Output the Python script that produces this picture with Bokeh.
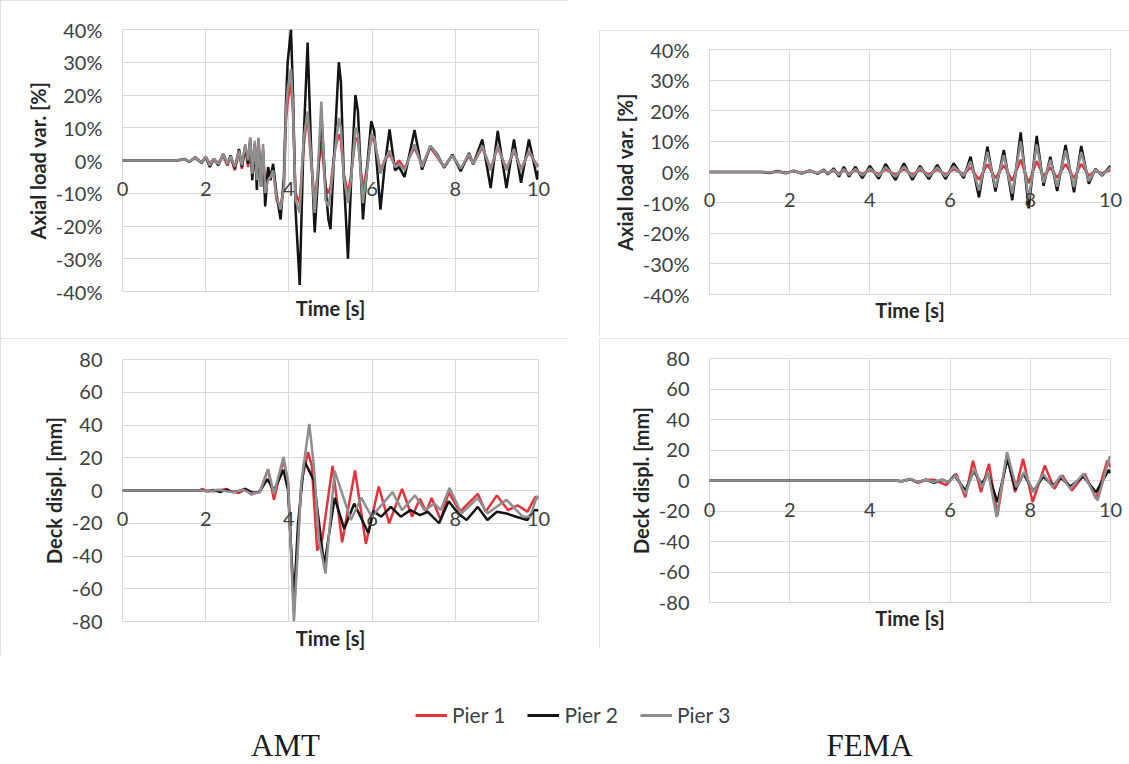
from bokeh.plotting import figure
from bokeh.models import (Range1d, FixedTicker, PrintfTickFormatter,
                          Legend, LegendItem, Label, Spacer)
from bokeh.layouts import column, row
from bokeh.embed import file_html
from bokeh.resources import INLINE

# ---------------- data ----------------
x_ticks = [0, 2, 4, 6, 8, 10]
axial_ticks = [-40, -30, -20, -10, 0, 10, 20, 30, 40]
displ_ticks = [-80, -60, -40, -20, 0, 20, 40, 60, 80]
series_names = ["Pier 1", "Pier 2", "Pier 3"]

# AMT - axial load variation [%]
amt_ax_t = [0.0, 1.3, 1.5, 1.6, 1.75, 1.9, 2.0, 2.1, 2.2, 2.3,
            2.42, 2.52, 2.6, 2.7, 2.8, 2.87, 2.95, 3.02, 3.07, 3.12,
            3.18, 3.23, 3.27, 3.33, 3.38, 3.43, 3.5, 3.56, 3.62, 3.7,
            3.8, 3.88, 3.93, 3.97, 4.05, 4.1, 4.16, 4.26, 4.35, 4.45,
            4.53, 4.62, 4.7, 4.78, 4.88, 4.95, 5.0, 5.1, 5.2, 5.25,
            5.32, 5.42, 5.5, 5.6, 5.66, 5.78, 5.88, 5.98, 6.05, 6.2,
            6.3, 6.42, 6.55, 6.65, 6.78, 6.9, 7.02, 7.2, 7.4, 7.57,
            7.73, 7.93, 8.13, 8.33, 8.43, 8.65, 8.85, 9.02, 9.23, 9.41,
            9.58, 9.77, 9.97, 10.0]
amt_ax_p1 = [0, 0, 0.3, -0.3, 0.8, -0.6, 1.2, -1.0, 0.5, -1.0,
             1.5, -1.5, 1.0, -3.0, 3.0, -2.5, 4.0, -2.0, 7.0, -3.0,
             5.0, -4.0, 5.0, -6.0, 2.0, -8.0, -3.0, -4.0, -2.0, -12.0,
             -14.0, -8.0, 12.0, 18.0, 24.0, 14.0, -10.0, -13.0, 4.0, 14.0,
             0.0, -12.0, -3.0, 6.0, -8.0, -10.0, -8.0, 3.0, 8.0, 6.0,
             -4.0, -10.0, -4.0, 7.0, 6.0, -9.0, -2.0, 7.0, 6.0, -3.0,
             0.0, 2.0, -1.5, 0.0, -2.5, 1.0, 4.0, -1.5, 4.0, 1.0,
             -2.0, 1.5, -2.5, 1.5, -1.0, 4.0, -2.5, 4.0, -2.5, 3.0,
             -2.5, 2.5, -1.5, -1.0]
amt_ax_p2 = [0, 0, 0.5, -0.5, 1.0, -0.8, 1.0, -2.0, 0.5, -1.5,
             2.0, -1.0, 1.5, -2.5, 3.5, -2.0, 4.5, -1.0, 6.0, -6.0,
             5.0, -9.0, 6.5, -8.0, 3.0, -14.0, -2.0, -6.0, -1.0, -10.0,
             -18.0, -5.0, 18.0, 30.0, 40.0, 20.0, -15.0, -38.0, 5.0, 36.0,
             5.0, -22.0, -5.0, 14.0, -8.0, -18.0, -21.0, 5.0, 30.0, 24.0,
             -5.0, -30.0, -5.0, 20.0, 15.0, -18.0, -2.0, 12.0, 9.0, -15.0,
             -2.0, 9.5, -3.0, -2.0, -5.0, 2.0, 9.3, -2.8, 4.4, 1.8,
             -2.2, 1.8, -3.3, 2.3, -1.2, 6.4, -8.4, 9.0, -8.4, 6.4,
             -6.8, 6.4, -5.8, -3.0]
amt_ax_p3 = [0, 0, 0.4, -0.4, 0.9, -0.7, 1.2, -1.5, 0.6, -1.2,
             1.8, -1.0, 1.2, -2.0, 3.0, -1.5, 5.0, 0.0, 7.0, -4.0,
             6.0, -6.0, 7.0, -8.0, 5.0, -10.0, -6.0, -5.0, -3.0, -11.0,
             -15.0, -8.0, 15.0, 22.0, 28.0, 16.0, -12.0, -16.0, 6.0, 15.0,
             2.0, -16.0, -2.0, 18.0, -12.0, -14.0, -10.0, 2.0, 13.0, 10.0,
             -5.0, -13.0, -5.0, 10.0, 8.0, -13.0, -3.0, 8.0, 7.0, -4.0,
             0.0, 3.0, -2.0, -1.0, -3.0, 1.0, 5.0, -2.0, 4.5, 1.5,
             -2.0, 1.5, -2.5, 2.0, -1.0, 4.5, -3.0, 4.5, -3.0, 3.5,
             -3.0, 3.0, -2.0, -1.5]

# AMT - deck displacement [mm]
amt_dd_t1 = [0, 1.85, 1.92, 2.0, 2.2, 2.4, 2.5, 2.6, 2.8, 2.95,
             3.1, 3.2, 3.3, 3.5, 3.64, 3.87, 3.98, 4.12, 4.3, 4.46,
             4.55, 4.68, 4.8, 5.05, 5.28, 5.59, 5.85, 6.16, 6.41, 6.72,
             6.96, 7.15, 7.3, 7.43, 7.65, 7.84, 8.11, 8.54, 8.73, 9.0,
             9.27, 9.5, 9.73, 9.93, 10.0]
amt_dd_p1 = [0, 0, 1.0, 0, -0.5, 0.5, 1.0, -0.5, -1.5, 1.0,
             -2.5, -1.0, -1.0, 13.0, -5.7, 19.0, 5.0, -75.0, 5.0, 23.4,
             15.0, -36.7, -30.0, 15.0, -31.6, 12.2, -32.6, 2.4, -20.0, 1.0,
             -16.0, -5.0, -13.0, -4.5, -18.0, -1.0, -13.0, -2.0, -13.0, -3.0,
             -12.0, -9.0, -13.0, -3.7, -5.0]
amt_dd_t2 = [0, 1.9, 2.05, 2.2, 2.35, 2.5, 2.65, 2.8, 2.95, 3.1,
             3.2, 3.3, 3.48, 3.64, 3.87, 3.98, 4.12, 4.22, 4.37, 4.45,
             4.6, 4.85, 5.1, 5.33, 5.57, 5.91, 6.03, 6.22, 6.45, 6.69,
             6.92, 7.15, 7.34, 7.61, 7.84, 8.07, 8.27, 8.54, 8.77, 9.0,
             9.23, 9.46, 9.73, 9.89, 10.0]
amt_dd_p2 = [0, 0, -0.5, 0.3, -1.0, 0.5, -1.0, -0.3, 1.0, -1.0,
             -1.5, -0.5, 7.0, 0.0, 12.6, 0.0, -68.0, -20.0, 18.0, 14.0,
             6.0, -46.0, -4.5, -23.4, -8.0, -26.0, -12.6, -16.0, -10.0, -16.0,
             -12.0, -15.0, -13.0, -20.0, -6.5, -14.0, -18.0, -10.0, -18.0, -13.0,
             -14.0, -16.0, -18.0, -12.0, -12.0]
amt_dd_t3 = [0, 1.9, 2.1, 2.3, 2.5, 2.7, 2.9, 3.1, 3.3, 3.5,
             3.64, 3.87, 3.98, 4.12, 4.3, 4.49, 4.6, 4.72, 4.88, 5.1,
             5.49, 5.74, 5.99, 6.49, 6.72, 7.03, 7.26, 7.5, 7.65, 7.86,
             8.15, 8.54, 8.77, 9.23, 9.62, 9.8, 9.96, 10.0]
amt_dd_p3 = [0, 0, -0.5, 0.5, -0.5, -1.0, 0.5, -2.0, -1.0, 13.0,
             -2.0, 20.4, 5.0, -80.0, 5.0, 40.7, 15.0, -30.0, -50.7, 12.0,
             -18.0, -4.5, -16.0, -1.0, -12.0, -3.0, -12.0, -8.0, -12.0, 1.6,
             -14.0, -4.5, -14.0, -5.7, -16.0, -16.0, -3.7, -4.0]

# FEMA - axial load variation [%]
fema_ax_t = [0, 1.3, 1.5, 1.7, 1.9, 2.1, 2.3, 2.5, 2.7, 2.85,
             2.95, 3.10, 3.23, 3.35, 3.48, 3.64, 3.81, 4.0, 4.22, 4.39,
             4.64, 4.85, 5.06, 5.25, 5.47, 5.68, 5.89, 6.09, 6.34, 6.51,
             6.72, 6.93, 7.13, 7.34, 7.55, 7.76, 7.96, 8.16, 8.33, 8.5,
             8.67, 8.88, 9.09, 9.27, 9.46, 9.62, 9.79, 10.0]
fema_ax_p1 = [0, 0, -0.1, 0.1, -0.2, 0.2, -0.2, 0.2, -0.3, 0.3,
              -0.3, 0.4, -0.5, 0.5, -0.5, 0.5, -0.6, 0.6, -0.7, 0.8,
              -0.8, 0.9, -0.8, 0.7, -0.8, 0.8, -0.8, 0.9, -0.7, 1.5,
              -2.5, 2.5, -2.0, 2.2, -2.8, 4.0, -3.6, 3.5, -1.4, 1.5,
              -1.9, 2.6, -2.0, 2.6, -1.2, 0.3, -0.4, 0.6]
fema_ax_p2 = [0, 0, -0.3, 0.3, -0.4, 0.4, -0.5, 0.5, -0.6, 0.8,
              -0.8, 1.2, -1.5, 1.7, -1.5, 1.7, -2.0, 2.0, -2.2, 2.6,
              -2.6, 2.8, -2.6, 2.0, -2.3, 2.3, -2.3, 2.8, -2.0, 5.0,
              -8.3, 8.3, -6.4, 7.2, -9.2, 12.9, -11.9, 11.8, -4.5, 5.0,
              -6.2, 8.8, -6.6, 8.5, -3.8, 1.0, -1.2, 2.0]
fema_ax_p3 = [0, 0, -0.2, 0.2, -0.3, 0.3, -0.4, 0.4, -0.4, 0.6,
              -0.6, 0.8, -1.0, 1.0, -1.0, 1.0, -1.2, 1.2, -1.4, 1.6,
              -1.6, 1.8, -1.6, 1.4, -1.5, 1.5, -1.5, 1.8, -1.3, 3.5,
              -6.0, 6.5, -5.0, 5.5, -7.0, 10.0, -9.0, 9.0, -3.5, 4.0,
              -4.8, 7.0, -5.0, 6.5, -3.0, 0.8, -1.0, 1.5]

# FEMA - deck displacement [mm]
fema_dd_t1 = [0, 4.6, 4.8, 5.0, 5.2, 5.4, 5.6, 5.9, 6.15, 6.38,
              6.57, 6.77, 6.97, 7.18, 7.42, 7.62, 7.82, 8.06, 8.36, 8.6,
              8.8, 9.04, 9.36, 9.64, 9.92, 10.0]
fema_dd_p1 = [0, 0, -0.5, 1.0, -1.5, 0.5, 0.5, -3.0, 4.4, -11.0,
              13.0, -7.7, 10.9, -23.0, 17.5, -7.7, 14.2, -14.2, 9.8, -5.5,
              3.3, -6.6, 4.4, -12.0, 13.0, 8.7]
fema_dd_t2 = [0, 4.6, 4.8, 5.0, 5.2, 5.4, 5.6, 5.8, 5.95, 6.11,
              6.38, 6.59, 6.79, 6.95, 7.18, 7.43, 7.63, 7.83, 8.08, 8.32,
              8.56, 8.76, 9.0, 9.32, 9.64, 9.96, 10.0]
fema_dd_p2 = [0, 0, -0.5, 0.8, -1.0, 0.5, -1.5, 0.5, -1.0, 3.3,
              -6.6, 6.1, -2.2, 4.4, -14.2, 14.2, -6.1, 4.4, -7.0, 2.6,
              -3.3, 1.7, -3.9, 2.6, -7.7, 7.0, 4.8]
fema_dd_t3 = [0, 4.6, 4.8, 5.0, 5.2, 5.4, 5.6, 5.8, 5.95, 6.14,
              6.38, 6.6, 6.8, 6.95, 7.16, 7.42, 7.65, 7.85, 8.08, 8.32,
              8.56, 8.76, 9.0, 9.32, 9.68, 9.98, 10.0]
fema_dd_p3 = [0, 0, -0.5, 1.0, -1.0, 0.5, -1.0, 0.5, -1.0, 3.3,
              -8.7, 7.7, -4.4, 5.5, -24.0, 18.6, -4.4, 5.5, -7.7, 4.4,
              -4.4, 3.3, -5.5, 4.4, -13.0, 15.7, 15.0]

# ---------------- style ----------------
COLORS = ["#e3343e", "#141414", "#8e8e8e"]
GRID = "#d9d9d9"
FONT = "Lato"
TICK_COLOR = "#404040"
LABEL_COLOR = "#262626"
LW = 2.5
PANEL_STYLE = {"outline": "1px solid #d9d9d9", "outline-offset": "-1px"}


def panel(w, h, bl, br, bt, bb, yticks, fmt, ylabel, x_std, xl_std):
    p = figure(width=w, height=h, x_range=Range1d(0, 10),
               y_range=Range1d(yticks[0], yticks[-1]),
               output_backend="svg", toolbar_location=None,
               min_border_left=bl, min_border_right=br,
               min_border_top=bt, min_border_bottom=bb,
               background_fill_color="white", border_fill_color="white",
               styles=PANEL_STYLE)
    p.outline_line_color = GRID
    p.xaxis.ticker = FixedTicker(ticks=x_ticks)
    p.yaxis.ticker = FixedTicker(ticks=yticks)
    p.xgrid.grid_line_color = GRID
    p.ygrid.grid_line_color = GRID
    for ax in (p.xaxis[0], p.yaxis[0]):
        ax.axis_line_color = None
        ax.major_tick_line_color = None
        ax.minor_tick_line_color = None
        ax.major_tick_out = 0
        ax.major_tick_in = 0
        ax.minor_tick_out = 0
        ax.major_label_text_font = FONT
        ax.major_label_text_font_size = "20px"
        ax.major_label_text_color = TICK_COLOR
        ax.axis_label_text_font = FONT
        ax.axis_label_text_font_size = "20px"
        ax.axis_label_text_font_style = "bold"
        ax.axis_label_text_color = LABEL_COLOR
    # x tick labels sit just under the zero line, title under the frame
    p.xaxis.major_label_standoff = x_std
    p.xaxis.axis_label = "Time [s]"
    p.xaxis.axis_label_standoff = xl_std
    p.yaxis.formatter = PrintfTickFormatter(format=fmt)
    p.yaxis.major_label_standoff = 20
    p.yaxis.axis_label = ylabel
    p.yaxis.axis_label_standoff = 3
    return p


def draw(p, ts, vs):
    for t, v, c in zip(ts, vs, COLORS):
        p.line(t, v, line_color=c, line_width=LW)


p_tl = panel(568, 338, 122, 30, 29, 47, axial_ticks, "%d%%", "Axial load var. [%]", -110, 97)
draw(p_tl, [amt_ax_t] * 3, [amt_ax_p1, amt_ax_p2, amt_ax_p3])

p_bl = panel(568, 317, 108, 28, 21, 34, displ_ticks, "%d", "Deck displ. [mm]", -110, 97)
draw(p_bl, [amt_dd_t1, amt_dd_t2, amt_dd_t3], [amt_dd_p1, amt_dd_p2, amt_dd_p3])

p_tr = panel(530, 305, 110, 19, 19, 41, axial_ticks, "%d%%", "Axial load var. [%]", -102, 88)
draw(p_tr, [fema_ax_t] * 3, [fema_ax_p1, fema_ax_p2, fema_ax_p3])

p_br = panel(530, 310, 95, 19, 20, 46, displ_ticks, "%d", "Deck displ. [mm]", -100, 86)
draw(p_br, [fema_dd_t1, fema_dd_t2, fema_dd_t3], [fema_dd_p1, fema_dd_p2, fema_dd_p3])

# legend + captions
leg = figure(width=1129, height=109, x_range=Range1d(0, 1), y_range=Range1d(0, 1),
             x_axis_type=None, y_axis_type=None, toolbar_location=None,
             output_backend="svg", min_border=0)
leg.outline_line_color = None
leg.grid.visible = False
items = []
for name, c in zip(series_names, COLORS):
    r = leg.line(x=[float("nan")], y=[float("nan")], line_color=c, line_width=3)
    items.append(LegendItem(label=name, renderers=[r]))
legend = Legend(items=items, orientation="horizontal", location=(415, 37),
                glyph_width=32, glyph_height=20, label_standoff=5, spacing=22,
                padding=0, margin=0, border_line_color=None,
                background_fill_alpha=0, label_text_font=FONT,
                label_text_font_size="21px", label_text_color=TICK_COLOR)
leg.add_layout(legend)
for txt, x in (("AMT", 285), ("FEMA", 869)):
    leg.add_layout(Label(x=x, y=37, x_units="screen", y_units="screen", text=txt,
                         text_align="center", text_baseline="top",
                         text_font="Liberation Serif", text_font_size="31px",
                         text_color="#1a1a1a"))

left_col = column(p_tl, p_bl)
right_col = column(Spacer(width=530, height=30), p_tr, Spacer(width=530, height=3), p_br)
page = column(row(left_col, Spacer(width=31, height=10), right_col), leg)

open("out.html", "w").write(file_html(page, INLINE))
